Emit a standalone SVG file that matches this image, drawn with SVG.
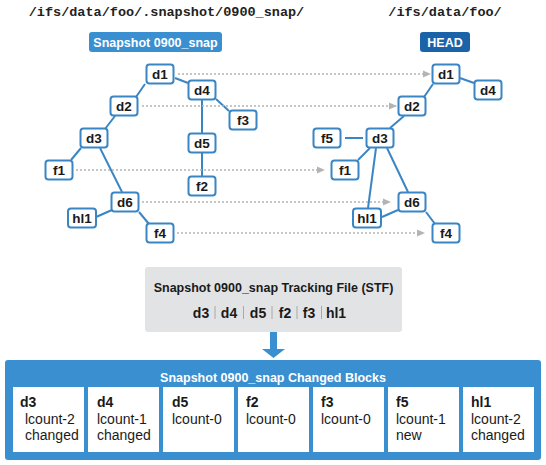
<svg xmlns="http://www.w3.org/2000/svg" width="546" height="465" viewBox="0 0 546 465">
<defs>
<marker id="ah" markerWidth="8" markerHeight="8" refX="7" refY="4" orient="auto" markerUnits="userSpaceOnUse">
<path d="M0,0.5 L8,4 L0,7.5 Z" fill="#b4b4b4"/>
</marker>
<marker id="bigah" markerWidth="22" markerHeight="10" refX="11" refY="9" orient="0" markerUnits="userSpaceOnUse">
<path d="M0,0 L22,0 L11,9 Z" fill="#3a8fd0"/>
</marker>
</defs>
<style>
.path{font-family:"Liberation Mono","Courier New",monospace;font-weight:bold;font-size:13.5px;fill:#222}
.n rect{fill:#fff;stroke:#3a86c4;stroke-width:2}
.n text{font-family:"Liberation Sans",Arial,sans-serif;font-weight:bold;font-size:13.5px;fill:#1a1a1a;text-anchor:middle}
.lbl{font-family:"Liberation Sans",Arial,sans-serif;font-weight:bold;font-size:12.5px;fill:#fff;text-anchor:middle}
.e line{stroke:#3a86c4;stroke-width:2}
.d line{stroke:#b4b4b4;stroke-width:1.3;stroke-dasharray:2 2;marker-end:url(#ah)}
.cell rect{fill:#fff}
.cell .h{font-family:"Liberation Sans",Arial,sans-serif;font-weight:bold;font-size:14px;fill:#1a1a1a}
.cell .t{font-family:"Liberation Sans",Arial,sans-serif;font-size:14px;fill:#1a1a1a}
</style>
<rect width="546" height="465" fill="#fff"/>
<text class="path" x="166.5" y="16" text-anchor="middle">/ifs/data/foo/.snapshot/0900_snap/</text>
<text class="path" x="445" y="16" text-anchor="middle">/ifs/data/foo/</text>
<g id="snaplabel"><rect x="89" y="32" width="133" height="20" rx="3" fill="#3a8fd0"/><text class="lbl" x="155.5" y="46.5">Snapshot 0900_snap</text></g>
<g id="headlabel"><rect x="420" y="32" width="50" height="20" rx="3" fill="#1a63a8"/><text class="lbl" x="445" y="46.5">HEAD</text></g>

<g id="connectors">
<g class="e">
<line x1="145" y1="84" x2="136" y2="97"/>
<line x1="175" y1="78" x2="188" y2="83"/>
<line x1="202" y1="100" x2="202" y2="133"/>
<line x1="216" y1="99" x2="229" y2="111"/>
<line x1="115" y1="116" x2="105" y2="129"/>
<line x1="81" y1="148" x2="71" y2="160"/>
<line x1="100" y1="148" x2="122" y2="192"/>
<line x1="202" y1="153" x2="202" y2="176"/>
<line x1="112" y1="210" x2="96" y2="217"/>
<line x1="139" y1="212" x2="149" y2="224"/>
<line x1="460" y1="78" x2="474" y2="83"/>
<line x1="433" y1="84" x2="424" y2="97"/>
<line x1="404" y1="116" x2="390" y2="128"/>
<line x1="345" y1="138" x2="363" y2="138"/>
<line x1="370" y1="148" x2="358" y2="160"/>
<line x1="376" y1="148" x2="368" y2="208"/>
<line x1="387" y1="148" x2="408" y2="192"/>
<line x1="398" y1="210" x2="382" y2="217"/>
<line x1="426" y1="212" x2="435" y2="224"/>
</g>
<g class="d">
<line x1="178" y1="74" x2="430" y2="74"/>
<line x1="142" y1="106" x2="396" y2="106"/>
<line x1="76" y1="170" x2="324" y2="170"/>
<line x1="142" y1="202" x2="390" y2="202"/>
<line x1="177" y1="233" x2="424" y2="233"/>
</g>
</g>

<g id="L-d1" class="n"><rect x="146.5" y="64.5" width="27" height="19" rx="3"/><text x="160" y="79">d1</text></g>
<g id="L-d4" class="n"><rect x="188.5" y="80.5" width="27" height="19" rx="3"/><text x="202" y="95">d4</text></g>
<g id="L-d2" class="n"><rect x="110.5" y="96.5" width="27" height="19" rx="3"/><text x="124" y="111">d2</text></g>
<g id="L-f3" class="n"><rect x="229.5" y="110.5" width="27" height="19" rx="3"/><text x="243" y="125">f3</text></g>
<g id="L-d3" class="n"><rect x="80.5" y="128.5" width="27" height="19" rx="3"/><text x="94" y="143">d3</text></g>
<g id="L-d5" class="n"><rect x="188.5" y="133.5" width="27" height="19" rx="3"/><text x="202" y="148">d5</text></g>
<g id="L-f1" class="n"><rect x="45.5" y="160.5" width="27" height="19" rx="3"/><text x="59" y="175">f1</text></g>
<g id="L-f2" class="n"><rect x="188.5" y="176.5" width="27" height="19" rx="3"/><text x="202" y="191">f2</text></g>
<g id="L-d6" class="n"><rect x="111.5" y="192.5" width="27" height="19" rx="3"/><text x="125" y="207">d6</text></g>
<g id="L-hl1" class="n"><rect x="68" y="208.5" width="28" height="19" rx="3"/><text x="82" y="223">hl1</text></g>
<g id="L-f4" class="n"><rect x="146.5" y="223.5" width="27" height="19" rx="3"/><text x="160" y="238">f4</text></g>

<g id="R-d1" class="n"><rect x="432.5" y="64.5" width="27" height="19" rx="3"/><text x="446" y="79">d1</text></g>
<g id="R-d4" class="n"><rect x="474.5" y="80.5" width="27" height="19" rx="3"/><text x="488" y="95">d4</text></g>
<g id="R-d2" class="n"><rect x="398.5" y="96.5" width="27" height="19" rx="3"/><text x="412" y="111">d2</text></g>
<g id="R-f5" class="n"><rect x="313.5" y="128.5" width="27" height="19" rx="3"/><text x="327" y="143">f5</text></g>
<g id="R-d3" class="n"><rect x="366.5" y="128.5" width="27" height="19" rx="3"/><text x="380" y="143">d3</text></g>
<g id="R-f1" class="n"><rect x="331.5" y="160.5" width="27" height="19" rx="3"/><text x="345" y="175">f1</text></g>
<g id="R-d6" class="n"><rect x="398.5" y="192.5" width="27" height="19" rx="3"/><text x="412" y="207">d6</text></g>
<g id="R-hl1" class="n"><rect x="353" y="208.5" width="28" height="19" rx="3"/><text x="367" y="223">hl1</text></g>
<g id="R-f4" class="n"><rect x="432.5" y="223.5" width="27" height="19" rx="3"/><text x="446" y="238">f4</text></g>

<g id="stf">
<rect x="145" y="267" width="257" height="65" rx="3" fill="#e2e3e5"/>
<text x="273.5" y="292" text-anchor="middle" font-family="'Liberation Sans',Arial,sans-serif" font-weight="bold" font-size="12.5" fill="#1a1a1a">Snapshot 0900_snap Tracking File (STF)</text>
<g font-family="'Liberation Sans',Arial,sans-serif" font-weight="bold" font-size="14" fill="#1a1a1a" text-anchor="middle">
<text x="201" y="318">d3</text><text x="229" y="318">d4</text><text x="258" y="318">d5</text><text x="285" y="318">f2</text><text x="309" y="318">f3</text><text x="336" y="318">hl1</text>
</g>
<g stroke="#a8a8a8" stroke-width="1">
<line x1="215" y1="306" x2="215" y2="319"/><line x1="243.5" y1="306" x2="243.5" y2="319"/><line x1="272" y1="306" x2="272" y2="319"/><line x1="297" y1="306" x2="297" y2="319"/><line x1="321.5" y1="306" x2="321.5" y2="319"/>
</g>
</g>

<g id="arrow">
<rect x="270" y="332" width="7" height="18" fill="#3a8fd0"/>
<path d="M262,349 L285,349 L273.5,358 Z" fill="#3a8fd0"/>
</g>

<g id="changed">
<rect x="5" y="360" width="536" height="100" rx="3" fill="#3a8fd0"/>
<text class="lbl" x="273" y="382" font-size="13">Snapshot 0900_snap Changed Blocks</text>
<g class="cell" id="c-d3"><rect x="13" y="387" width="71" height="65"/><text class="h" x="20" y="407">d3</text><text class="t" x="25" y="423.5">lcount-2</text><text class="t" x="25" y="440">changed</text></g>
<g class="cell" id="c-d4"><rect x="88" y="387" width="71" height="65"/><text class="h" x="97" y="407">d4</text><text class="t" x="97" y="423.5">lcount-1</text><text class="t" x="97" y="440">changed</text></g>
<g class="cell" id="c-d5"><rect x="163" y="387" width="71" height="65"/><text class="h" x="172" y="407">d5</text><text class="t" x="172" y="423.5">lcount-0</text></g>
<g class="cell" id="c-f2"><rect x="238" y="387" width="71" height="65"/><text class="h" x="246" y="407">f2</text><text class="t" x="246" y="423.5">lcount-0</text></g>
<g class="cell" id="c-f3"><rect x="313" y="387" width="71" height="65"/><text class="h" x="321" y="407">f3</text><text class="t" x="321" y="423.5">lcount-0</text></g>
<g class="cell" id="c-f5"><rect x="388" y="387" width="71" height="65"/><text class="h" x="396" y="407">f5</text><text class="t" x="396" y="423.5">lcount-1</text><text class="t" x="396" y="440">new</text></g>
<g class="cell" id="c-hl1"><rect x="463" y="387" width="71" height="65"/><text class="h" x="471" y="407">hl1</text><text class="t" x="471" y="423.5">lcount-2</text><text class="t" x="471" y="440">changed</text></g>
</g>
</svg>
